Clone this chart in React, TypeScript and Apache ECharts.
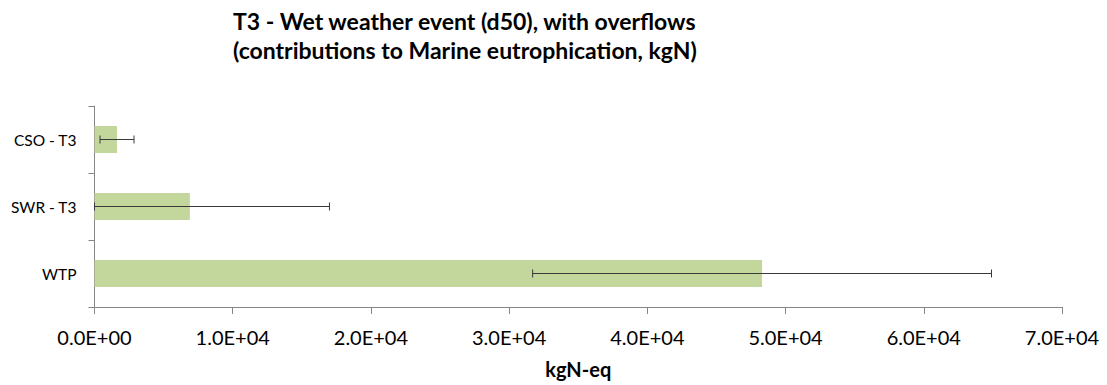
import React, { useEffect, useRef } from "react";
import * as echarts from "echarts";

const categories = ["WTP", "SWR - T3", "CSO - T3"];
const values = [48300, 6900, 1630];
const errLow = [31700, 0, 400];
const errHigh = [64900, 17000, 2860];
const xTicks = { min: 0, max: 70000, interval: 10000 };

const FONT = "Lato, 'Liberation Sans', sans-serif";

function fmt(v: number): string {
  const s = v.toExponential(1);
  const [m, e] = s.split("e");
  const sign = e[0] === "-" ? "-" : "+";
  const digits = e.replace(/[+-]/, "").padStart(2, "0");
  return m + "E" + sign + digits;
}

export default function App() {
  const ref = useRef<HTMLDivElement>(null);
  useEffect(() => {
    if (!ref.current) return;
    const chart = echarts.init(ref.current, undefined, { renderer: "svg" });
    chart.setOption({
      animation: false,
      backgroundColor: "#ffffff",
      title: {
        text: "T3 - Wet weather event (d50), with overflows\n(contributions to Marine eutrophication, kgN)",
        left: 225,
        top: -2,
        padding: 0,
        textStyle: {
          fontFamily: FONT,
          fontWeight: "bold",
          fontSize: 23,
          lineHeight: 29,
          color: "#000000",
        },
      },
      grid: { left: 86.5, right: 37, top: 98, bottom: 78, outerBoundsMode: "none", containLabel: false },
      xAxis: {
        type: "value",
        min: xTicks.min,
        max: xTicks.max,
        interval: xTicks.interval,
        name: "kgN-eq",
        nameLocation: "middle",
        nameGap: 52,
        nameTextStyle: { fontFamily: FONT, fontWeight: "bold", fontSize: 20, color: "#000" },
        axisLine: { show: true, lineStyle: { color: "#868686", width: 1 } },
        axisTick: { show: true, length: 7, lineStyle: { color: "#868686" } },
        splitLine: { show: false },
        axisLabel: {
          formatter: (v: number) => fmt(v),
          fontFamily: FONT,
          fontSize: 20,
          color: "#000",
          margin: 20,
        },
      },
      yAxis: {
        type: "category",
        data: categories,
        axisLine: { show: true, lineStyle: { color: "#868686", width: 1 } },
        axisTick: { show: true, length: 6, alignWithLabel: false, lineStyle: { color: "#868686" } },
        axisLabel: { fontFamily: FONT, fontSize: 15.5, color: "#000", margin: 18 },
      },
      series: [
        {
          type: "bar",
          data: values,
          barWidth: 27,
          itemStyle: { color: "#c3d69b" },
        },
        {
          type: "custom",
          data: categories.map((_, i) => [i, errLow[i], errHigh[i]]),
          encode: { y: 0, x: [1, 2] },
          renderItem: (params: any, api: any) => {
            const c = api.value(0);
            const lo = api.coord([api.value(1), c]);
            const hi = api.coord([api.value(2), c]);
            const h = 4;
            const style = { stroke: "#3a3a3a", lineWidth: 1 };
            return {
              type: "group",
              children: [
                { type: "line", shape: { x1: lo[0], y1: lo[1], x2: hi[0], y2: hi[1] }, style },
                { type: "line", shape: { x1: lo[0], y1: lo[1] - h, x2: lo[0], y2: lo[1] + h }, style },
                { type: "line", shape: { x1: hi[0], y1: hi[1] - h, x2: hi[0], y2: hi[1] + h }, style },
              ],
            };
          },
          z: 10,
        },
      ],
    });
    return () => chart.dispose();
  }, []);
  return <div ref={ref} style={{ width: 1091, height: 377 }} />;
}
